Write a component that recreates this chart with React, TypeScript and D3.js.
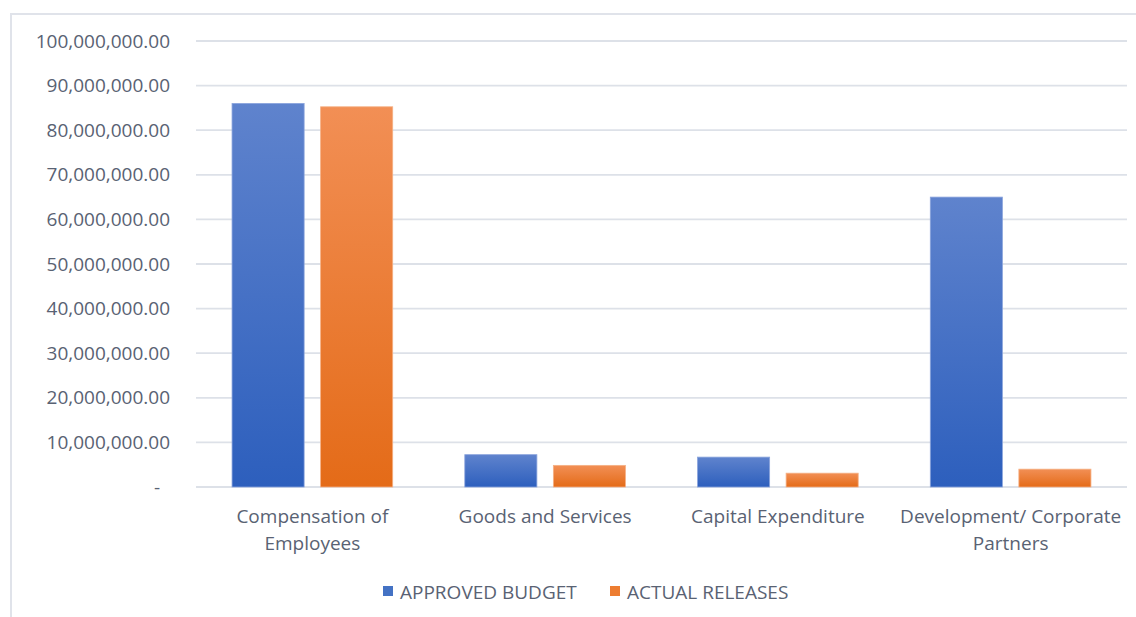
import * as d3 from 'd3'
import { useRef, useEffect } from 'react'

const categories = ['Compensation of Employees', 'Goods and Services', 'Capital Expenditure', 'Development/ Corporate Partners']
const categoryLines = [['Compensation of', 'Employees'], ['Goods and Services'], ['Capital Expenditure'], ['Development/ Corporate', 'Partners']]
const seriesNames = ['APPROVED BUDGET', 'ACTUAL RELEASES']
const approvedBudget = [86000000, 7250000, 6700000, 65000000]
const actualReleases = [85250000, 4850000, 3100000, 4000000]
const yTicks = [0, 10000000, 20000000, 30000000, 40000000, 50000000, 60000000, 70000000, 80000000, 90000000, 100000000]

const width = 1136
const height = 617
const margin = { top: 41, right: 9, bottom: 130, left: 196 }
const textColor = '#596273'
const font = '"Open Sans", sans-serif'
const fontSize = 19

const App: React.FC = () => {
  const svgRef = useRef(null)

  useEffect((): void => {
    const svg = d3.select(svgRef.current)
    svg.selectAll('*').remove()

    const defs = svg.append('defs')
    const grads = [
      { id: 'gBlue', top: '#5f83cd', bottom: '#2d5fbd' },
      { id: 'gOrange', top: '#f28f55', bottom: '#e46b18' }
    ]
    grads.forEach(g => {
      const lg = defs.append('linearGradient').attr('id', g.id).attr('x1', 0).attr('y1', 0).attr('x2', 0).attr('y2', 1)
      lg.append('stop').attr('offset', '0%').attr('stop-color', g.top)
      lg.append('stop').attr('offset', '100%').attr('stop-color', g.bottom)
    })
    const strokes = ['#8aa4dc', '#f5b085']

    // outer chart frame (only left/top visible in the crop)
    svg.append('path')
      .attr('d', `M11,${height} V14 H${width}`)
      .attr('fill', 'none')
      .attr('stroke', '#e0e3ea')
      .attr('stroke-width', 2)

    const yScale = d3.scaleLinear()
      .domain([0, 100000000])
      .range([height - margin.bottom, margin.top])
    const x0 = d3.scaleBand()
      .domain(categories)
      .range([margin.left, width - margin.right])
      .padding(0)
    const x1 = d3.scaleBand()
      .domain(seriesNames)
      .range([0, x0.bandwidth()])
      .paddingInner(0.186)
      .paddingOuter(0.407)

    // gridlines
    svg.append('g')
      .selectAll('line')
      .data(yTicks)
      .enter()
      .append('line')
      .attr('x1', margin.left)
      .attr('x2', width - margin.right)
      .attr('y1', d => yScale(d))
      .attr('y2', d => yScale(d))
      .attr('stroke', '#dde1e8')
      .attr('stroke-width', 1.8)

    // y axis labels
    const fmt = d3.format(',.2f')
    svg.append('g')
      .selectAll('text')
      .data(yTicks)
      .enter()
      .append('text')
      .attr('x', d => (d === 0 ? 160 : 170))
      .attr('y', d => yScale(d))
      .attr('dy', '0.35em')
      .attr('text-anchor', 'end')
      .attr('font-family', font)
      .attr('font-size', fontSize)
      .attr('fill', textColor)
      .text(d => (d === 0 ? '-' : fmt(d)))

    const values = [approvedBudget, actualReleases]
    const fills = ['url(#gBlue)', 'url(#gOrange)']

    values.forEach((vals, si) => {
      svg.append('g')
        .selectAll('rect')
        .data(vals)
        .enter()
        .append('rect')
        .attr('x', (d, i) => x0(categories[i])! + x1(seriesNames[si])!)
        .attr('y', d => yScale(d))
        .attr('width', x1.bandwidth())
        .attr('height', d => yScale(0) - yScale(d))
        .attr('fill', fills[si])
        .attr('stroke', strokes[si])
        .attr('stroke-width', 0.8)
    })

    // category labels
    const cat = svg.append('g')
    categories.forEach((c, i) => {
      const t = cat.append('text')
        .attr('text-anchor', 'middle')
        .attr('font-family', font)
        .attr('font-size', fontSize)
        .attr('fill', textColor)
      categoryLines[i].forEach((line, li) => {
        t.append('tspan')
          .attr('x', x0(c)! + x0.bandwidth() / 2)
          .attr('y', yScale(0) + 36 + li * 27)
          .text(line)
      })
    })

    // legend
    const legend = svg.append('g')
    const legendX = [383, 610]
    const legendColors = ['#4472c4', '#ed7d31']
    seriesNames.forEach((s, i) => {
      legend.append('rect')
        .attr('x', legendX[i])
        .attr('y', 586)
        .attr('width', 10)
        .attr('height', 10)
        .attr('fill', legendColors[i])
      legend.append('text')
        .attr('x', legendX[i] + 17)
        .attr('y', 592)
        .attr('dy', '0.35em')
        .attr('font-family', font)
        .attr('font-size', fontSize)
        .attr('fill', textColor)
        .text(s)
    })
  }, [])

  return (
    <svg
      ref={svgRef}
      width={width}
      height={height}
      style={{ position: 'absolute', left: 0, top: 0, background: '#fff' }}
    ></svg>
  )
}

export default App
